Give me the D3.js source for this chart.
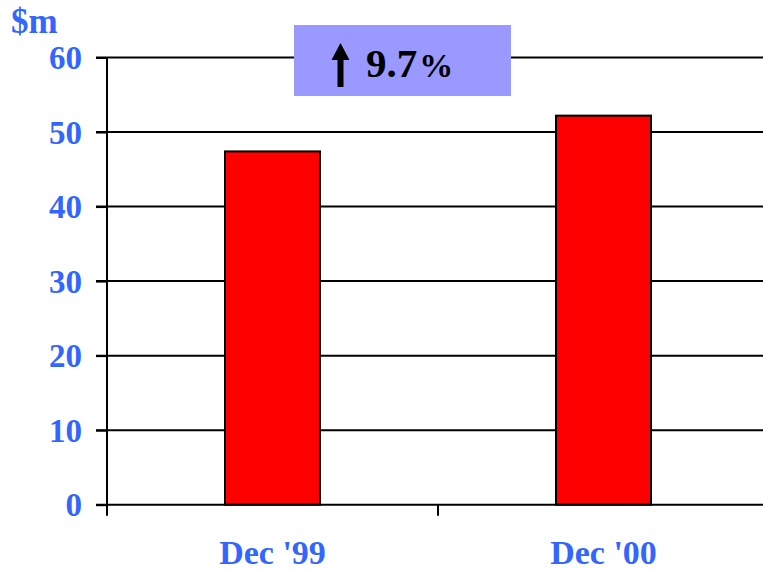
<!DOCTYPE html>
<html><head><meta charset="utf-8">
<script src="https://cdn.jsdelivr.net/npm/d3@7"></script>
<style>body{margin:0;background:#fff;}svg{display:block;}</style>
</head><body>
<script>
const categories = ["Dec '99", "Dec '00"];
const values = [47.4, 52.2];
const yTicks = [0, 10, 20, 30, 40, 50, 60];
const unitLabel = "$m";
const changeLabel = "9.7";
const changeUnit = "%";

const W = 763, H = 570;
const font = "'Liberation Serif','Times New Roman',serif";
const blue = "#3366ff";
const svg = d3.select("body").append("svg").attr("width", W).attr("height", H);

const x = d3.scaleBand().domain(categories).range([107, 769]).paddingInner(0).paddingOuter(0);
const y = d3.scaleLinear().domain([0, 60]).range([504.7, 57.5]);

// gridlines
svg.append("g").selectAll("line").data(yTicks.filter(d => d > 0)).join("line")
  .attr("x1", 96).attr("x2", W).attr("y1", d => y(d)).attr("y2", d => y(d))
  .attr("stroke", "#000").attr("stroke-width", 2);

// bars
const barW = 95;
svg.append("g").selectAll("rect").data(values).join("rect")
  .attr("x", (d, i) => x(categories[i]) + x.bandwidth() / 2 - barW / 2)
  .attr("width", barW)
  .attr("y", d => y(d)).attr("height", d => y(0) - y(d))
  .attr("fill", "#ff0000").attr("stroke", "#000").attr("stroke-width", 2);

// y axis
const yAxis = d3.axisLeft(y).tickValues(yTicks).tickSize(11).tickPadding(14).tickFormat(d3.format("d"));
const gy = svg.append("g").attr("transform", "translate(107,0)").call(yAxis);
gy.select(".domain").attr("stroke", "#000").attr("stroke-width", 2).attr("d", `M0,${y(60)}V${y(0)}`);
gy.selectAll(".tick line").attr("stroke", "#000").attr("stroke-width", 2);
gy.selectAll(".tick text").attr("fill", blue).attr("font-family", font).attr("font-weight", "bold")
  .attr("font-size", 33).attr("dy", "0.34em");

// x axis
const xAxis = d3.axisBottom(x).tickSize(0).tickPadding(0);
const gx = svg.append("g").attr("transform", `translate(0,${y(0)})`).call(xAxis);
gx.select(".domain").attr("stroke", "#000").attr("stroke-width", 2).attr("d", `M96,0H${W}`);
gx.selectAll(".tick text").attr("fill", blue).attr("font-family", font).attr("font-weight", "bold")
  .attr("font-size", 34).attr("y", 59).attr("dy", 0);
// category boundary ticks
const bounds = [x(categories[0]), x(categories[1])];
svg.append("g").selectAll("line").data(bounds).join("line")
  .attr("x1", d => d).attr("x2", d => d).attr("y1", y(0)).attr("y2", y(0) + 11)
  .attr("stroke", "#000").attr("stroke-width", 2);

// unit label
svg.append("text").attr("x", 11).attr("y", 33).attr("fill", blue).attr("font-family", font)
  .attr("font-weight", "bold").attr("font-size", 35).text(unitLabel);

// change box
svg.append("rect").attr("x", 294).attr("y", 25).attr("width", 217).attr("height", 71).attr("fill", "#9999ff");
// arrow
svg.append("path").attr("d", "M340.5,43 L349.5,60 L343.5,60 L343.5,87 L337.5,87 L337.5,60 L331.5,60 Z").attr("fill", "#000");
const t = svg.append("text").attr("x", 366).attr("y", 77).attr("font-family", font).attr("font-weight", "bold").attr("fill", "#000");
t.append("tspan").attr("font-size", 41).text(changeLabel);
t.append("tspan").attr("font-size", 34).attr("dx", 2).text(changeUnit);
</script>
</body></html>
